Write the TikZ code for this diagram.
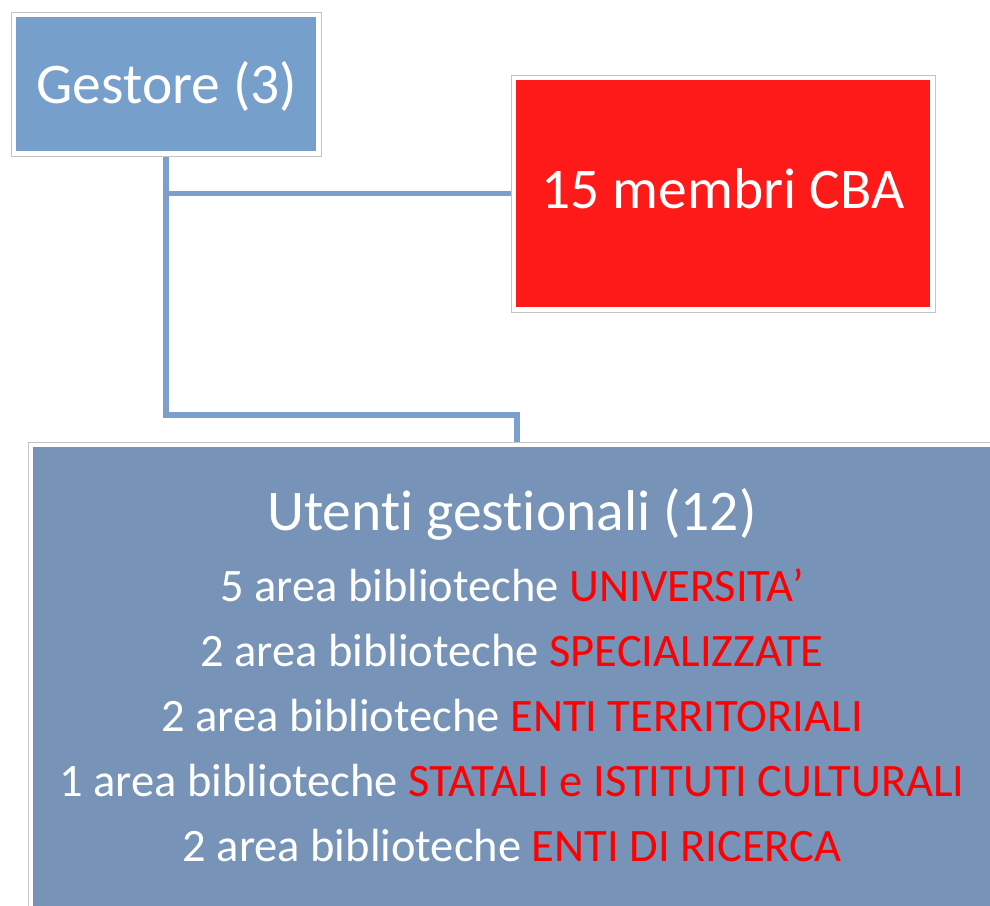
\documentclass[tikz,border=0pt]{standalone}
\usepackage{fontspec}
\setmainfont{Carlito}[Ligatures=NoCommon]
\usetikzlibrary{calc}
\pgfdeclarelayer{bg}
\pgfdeclarelayer{mid}
\pgfsetlayers{bg,mid,main}
\definecolor{lightblue}{HTML}{779FCC}
\definecolor{slate}{HTML}{7794B8}
\definecolor{cbared}{HTML}{FF1A1A}
\definecolor{conn}{HTML}{7BA0D0}
\definecolor{framegray}{HTML}{C4C4C4}
\definecolor{txtred}{HTML}{FF0000}
\begin{document}
\begin{tikzpicture}[x=1pt,y=-1pt,
  box/.style={inner sep=0pt, outer sep=0pt, text=white},
  frame/.style={draw=framegray, line width=0.9pt, fill=white},
  link/.style={draw=conn, line width=5.5pt},
  bigtxt/.style={font=\fontsize{57.5}{62}\selectfont, text=white, inner sep=0pt},
  linetxt/.style={font=\fontsize{46.5}{50}\selectfont, text=white, inner sep=0pt, anchor=base}]
\useasboundingbox (0,0) rectangle (990,905);
% boxes
\node[box, fill=lightblue, minimum width=300pt, minimum height=134pt] (g) at (166,84) {};
\node[box, fill=cbared, minimum width=414pt, minimum height=227pt] (c) at (723,193.5) {};
\node[box, fill=slate, minimum width=958pt, minimum height=480pt, anchor=north west] (u) at (33,447) {};
% frames
\begin{pgfonlayer}{mid}
\foreach \n in {g,c,u}{
  \draw[frame] ($(\n.north west)+(-5,-5)$) rectangle ($(\n.south east)+(5,5)$);
}
\end{pgfonlayer}
% texts
\node[bigtxt, anchor=base] (gt) at (167,103) {Gestore (3)};
\node[bigtxt, anchor=base] (ct) at (723,208) {15 membri CBA};
\node[bigtxt, anchor=base] (ut) at (512,530) {Utenti gestionali (12)};
\node[linetxt] (l1) at (512,601) {5 area biblioteche \textcolor{txtred}{UNIVERSITA’}};
\node[linetxt] (l2) at (512,666) {2 area biblioteche \textcolor{txtred}{SPECIALIZZATE}};
\node[linetxt] (l3) at (512,731) {2 area biblioteche \textcolor{txtred}{ENTI TERRITORIALI}};
\node[linetxt] (l4) at (512,796) {1 area biblioteche \textcolor{txtred}{STATALI e ISTITUTI CULTURALI}};
\node[linetxt] (l5) at (512,861) {2 area biblioteche \textcolor{txtred}{ENTI DI RICERCA}};
% connectors
\begin{pgfonlayer}{bg}
\coordinate (j1) at (g.south |- c.west);
\coordinate (j2) at ($(g.south)+(0,264)$);
\draw[link] (g.south) -- (j2) -| (u.north -| 517,0);
\draw[link] (j1) -- (c.west);
\end{pgfonlayer}
\end{tikzpicture}
\end{document}
